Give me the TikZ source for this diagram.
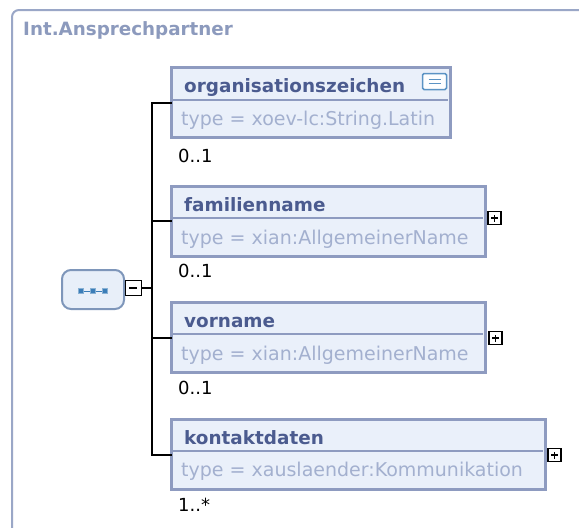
\documentclass[tikz,border=0pt]{standalone}
\usepackage{fontspec}
\setmainfont{DejaVu Sans}
\definecolor{frameC}{HTML}{9AA7C7}
\definecolor{titleC}{HTML}{8C9ABD}
\definecolor{boxB}{HTML}{8E9BC0}
\definecolor{boxF}{HTML}{EAF0FA}
\definecolor{nameC}{HTML}{4B5B8F}
\definecolor{typeC}{HTML}{A3B0CF}
\definecolor{seqB}{HTML}{7E96BA}
\definecolor{seqF}{HTML}{E8EFF9}
\definecolor{iconC}{HTML}{3B7DB8}
\definecolor{enumB}{HTML}{5B93C4}
\tikzset{
  elbox/.style={draw=boxB, fill=boxF, line width=3pt, inner sep=0pt, outer sep=0pt, anchor=north west, minimum height=70pt},
  nametext/.style={anchor=base west, inner sep=0pt, text=nameC, font=\fontsize{18.4}{20}\selectfont\bfseries},
  typetext/.style={anchor=base west, inner sep=0pt, text=typeC, font=\fontsize{19}{20}\selectfont},
  multtext/.style={anchor=base west, inner sep=0pt, text=black, font=\fontsize{18}{20}\selectfont},
  divider/.style={draw=boxB, line width=2pt},
  expbox/.style={draw=black, fill=white, line width=1.6pt, inner sep=0pt, outer sep=0pt, minimum width=13pt, minimum height=13pt, anchor=west},
  conn/.style={draw=black, line width=2pt},
  sq/.style={draw=iconC!60, fill=iconC, line width=0.5pt, inner sep=0pt, minimum size=5pt}
}
\begin{document}
\begin{tikzpicture}[x=1pt,y=-1pt]
\useasboundingbox (0,0) rectangle (579,528);
\clip (0,0) rectangle (579,528);
\fill[white] (0,0) rectangle (579,528);
% outer frame
\draw[frameC, line width=2pt, rounded corners=7pt] (12,560) -- (12,10) -- (600,10);
\node[anchor=base west, inner sep=0pt, text=titleC, font=\fontsize{18.3}{20}\selectfont\bfseries] (title) at (23,35) {Int.Ansprechpartner};

% sequence node
\node[draw=seqB, fill=seqF, line width=2pt, rounded corners=9pt, minimum width=62pt, minimum height=39pt, inner sep=0pt, anchor=north west] (seq) at (61,269) {};
\node[sq] (s1) at (81,291) {};
\node[sq] (s2) at (93,291) {};
\node[sq] (s3) at (105,291) {};
\draw[iconC, line width=1pt] (s1) -- (s2) (s2) -- (s3);
\node[draw=black, fill=white, line width=1.6pt, inner sep=0pt, minimum width=16pt, minimum height=15pt, anchor=west] (minus) at (124.5,288) {};
\draw[black, line width=1.6pt] ([xshift=-4pt]minus.center) -- ([xshift=4pt]minus.center);

% element boxes
\node[elbox, minimum width=279pt] (e1) at (171.5,67.5) {};
\node[elbox, minimum width=314pt] (e2) at (171.5,186) {};
\node[elbox, minimum width=314pt] (e3) at (171.5,302.5) {};
\node[elbox, minimum width=374pt] (e4) at (171.5,419.5) {};

\draw[divider] ([yshift=-32pt]e1.north west) -- ([yshift=-32pt,xshift=-3pt]e1.north east);
\draw[divider] ([yshift=-31.5pt]e2.north west) -- ([yshift=-31.5pt,xshift=-3pt]e2.north east);
\draw[divider] ([yshift=-31pt]e3.north west) -- ([yshift=-31pt,xshift=-3pt]e3.north east);
\draw[divider] ([yshift=-31pt]e4.north west) -- ([yshift=-31pt,xshift=-3pt]e4.north east);

\node[nametext] (n1) at (184,92) {organisationszeichen};
\node[typetext] (t1) at (181,125) {type = xoev-lc:String.Latin};
\node[nametext] (n2) at (184,211) {familienname};
\node[typetext] (t2) at (181,244) {type = xian:AllgemeinerName};
\node[nametext] (n3) at (184,327) {vorname};
\node[typetext] (t3) at (181,360) {type = xian:AllgemeinerName};
\node[nametext] (n4) at (184,444) {kontaktdaten};
\node[typetext] (t4) at (181,476) {type = xauslaender:Kommunikation};

% enumeration icon
\node[draw=enumB, fill=white!90!boxF, line width=1.5pt, rounded corners=1.5pt, minimum width=24pt, minimum height=16pt, inner sep=0pt] (enum) at (434.5,81.5) {};
\draw[enumB, line width=1.3pt] ([xshift=-6pt,yshift=2pt]enum.center) -- ([xshift=6pt,yshift=2pt]enum.center)
  ([xshift=-6pt,yshift=-2pt]enum.center) -- ([xshift=6pt,yshift=-2pt]enum.center);

% expand boxes
\node[expbox] (p2) at (488,218) {};
\node[expbox] (p3) at (489,338) {};
\node[expbox] (p4) at (548,455) {};
\foreach \p in {p2,p3,p4}{
  \draw[black, line width=1.4pt] ([xshift=-3.5pt]\p.center) -- ([xshift=3.5pt]\p.center)
    ([yshift=-3.5pt]\p.center) -- ([yshift=3.5pt]\p.center);
}

% multiplicities
\node[multtext] (m1) at (178,162) {0..1};
\node[multtext] (m2) at (178,277) {0..1};
\node[multtext] (m3) at (178,394) {0..1};
\node[multtext] (m4) at (178,511) {1..*};

% connectors
\coordinate (bus) at (152,288);
\draw[conn] (minus.east) -- (bus);
\draw[conn] (e1.west) -- (e1.west -| bus) -- (e4.west -| bus) -- (e4.west);
\draw[conn] (e2.west) -- (e2.west -| bus);
\draw[conn] (e3.west) -- (e3.west -| bus);
\end{tikzpicture}
\end{document}
